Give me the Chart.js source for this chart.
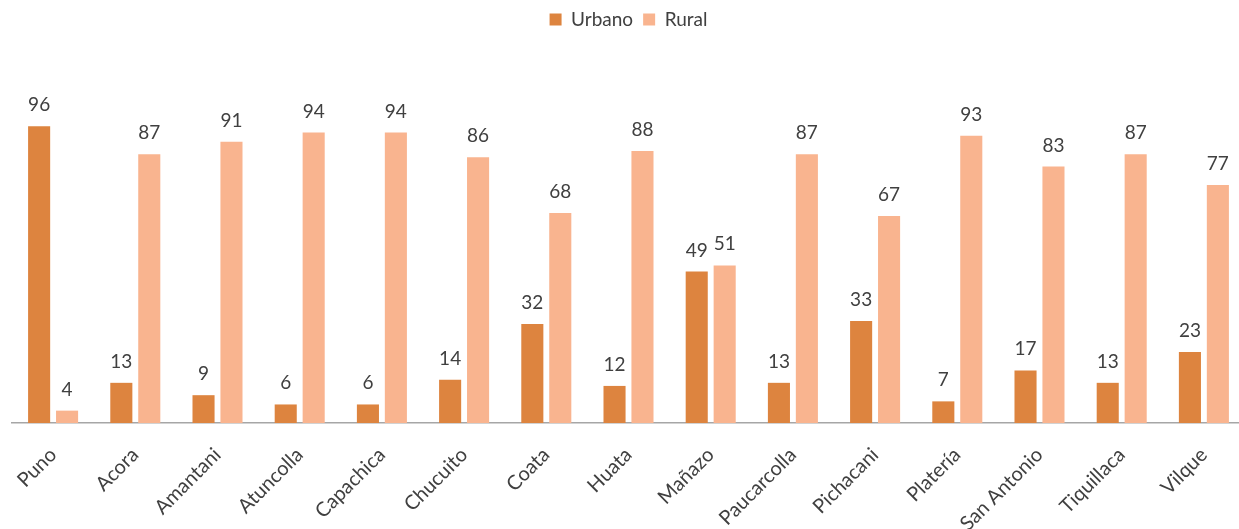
<!DOCTYPE html>
<html>
<head>
<meta charset="utf-8">
<script src="https://cdn.jsdelivr.net/npm/chart.js@4/dist/chart.umd.min.js"></script>
<style>
  html, body { margin: 0; padding: 0; background: #fff; overflow: hidden; }
  #wrap { width: 1245px; height: 529px; }
</style>
</head>
<body>
<div id="wrap"><canvas id="chart"></canvas></div>
<script>
const districts = ['Puno','Acora','Amantani','Atuncolla','Capachica','Chucuito','Coata','Huata','Mañazo','Paucarcolla','Pichacani','Platería','San Antonio','Tiquillaca','Vilque'];
const urbano = [96,13,9,6,6,14,32,12,49,13,33,7,17,13,23];
const rural = [4,87,91,94,94,86,68,88,51,87,67,93,83,87,77];

const FONT = 'Lato, "Open Sans", sans-serif';

// draws the value above each bar
const barLabels = {
  id: 'barLabels',
  afterDatasetsDraw(chart) {
    const ctx = chart.ctx;
    ctx.save();
    ctx.font = '19px ' + FONT;
    ctx.fillStyle = '#404040';
    ctx.textAlign = 'center';
    ctx.textBaseline = 'alphabetic';
    chart.data.datasets.forEach((ds, i) => {
      chart.getDatasetMeta(i).data.forEach((bar, j) => {
        ctx.fillText(ds.data[j], bar.x, bar.y - 15);
      });
    });
    ctx.restore();
  }
};

// keep the legend box tall so the plot starts lower, like the original
const legendSpace = {
  id: 'legendSpace',
  afterInit(chart) {
    const lg = chart.legend;
    const fit = lg.fit;
    lg.fit = function () {
      fit.call(this);
      this.height = 114;
    };
  }
};

new Chart(document.getElementById('chart'), {
  type: 'bar',
  data: {
    labels: districts,
    datasets: [
      { label: 'Urbano', data: urbano, backgroundColor: '#DD843F' },
      { label: 'Rural', data: rural, backgroundColor: '#F9B48F' }
    ]
  },
  options: {
    responsive: true,
    maintainAspectRatio: false,
    animation: false,
    categoryPercentage: 0.68,
    barPercentage: 0.79,
    layout: { padding: { left: 12, right: 0, top: 0, bottom: 0 } },
    plugins: {
      legend: {
        position: 'top',
        labels: {
          font: { family: FONT, size: 19 },
          color: '#404040',
          boxWidth: 12,
          boxHeight: 12,
          padding: 10
        }
      },
      tooltip: { enabled: false }
    },
    scales: {
      x: {
        grid: { display: false, drawTicks: false },
        border: { display: true, color: '#A6A6A6', width: 1.5 },
        ticks: {
          font: { family: FONT, size: 20 },
          color: '#404040',
          maxRotation: 45,
          minRotation: 45,
          padding: 20
        },
        afterFit(scale) { scale.height = 106; }
      },
      y: {
        display: false,
        min: 0,
        max: 100
      }
    }
  },
  plugins: [barLabels, legendSpace]
});
</script>
</body>
</html>
